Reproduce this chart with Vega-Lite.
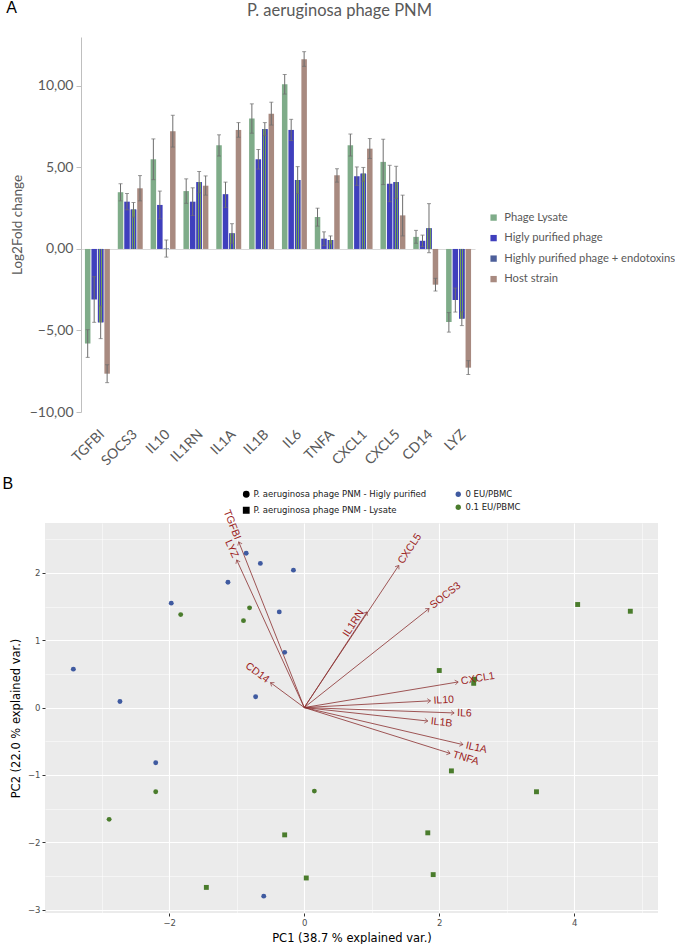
{
  "$schema": "https://vega.github.io/schema/vega-lite/v6.json",
  "padding": {"left": 2, "top": 0, "right": 0, "bottom": 0},
  "columns": 1,
  "align": "none",
  "spacing": 8,
  "config": {"view": {"stroke": null}},
  "resolve": {"scale": {"color": "independent", "shape": "independent"}, "legend": {"color": "independent", "shape": "independent"}},
  "datasets": {
    "expr": [
      {"gene": "TGFBI", "series": "Phage Lysate", "value": -5.8, "lo": -6.65, "hi": -4.95},
      {"gene": "TGFBI", "series": "Higly purified phage", "value": -3.1, "lo": -4.5, "hi": -1.7},
      {"gene": "TGFBI", "series": "Highly purified phage + endotoxins", "value": -4.5, "lo": -5.5, "hi": -3.5},
      {"gene": "TGFBI", "series": "Host strain", "value": -7.65, "lo": -8.2, "hi": -7.1},
      {"gene": "SOCS3", "series": "Phage Lysate", "value": 3.48, "lo": 2.95, "hi": 4.0},
      {"gene": "SOCS3", "series": "Higly purified phage", "value": 2.9, "lo": 2.4, "hi": 3.4},
      {"gene": "SOCS3", "series": "Highly purified phage + endotoxins", "value": 2.42, "lo": 1.95, "hi": 2.85},
      {"gene": "SOCS3", "series": "Host strain", "value": 3.72, "lo": 2.95, "hi": 4.5},
      {"gene": "IL10", "series": "Phage Lysate", "value": 5.5, "lo": 4.25, "hi": 6.75},
      {"gene": "IL10", "series": "Higly purified phage", "value": 2.7, "lo": 1.85, "hi": 3.55},
      {"gene": "IL10", "series": "Highly purified phage + endotoxins", "value": 0.02, "lo": -0.5, "hi": 0.55},
      {"gene": "IL10", "series": "Host strain", "value": 7.22, "lo": 6.25, "hi": 8.2},
      {"gene": "IL1RN", "series": "Phage Lysate", "value": 3.55, "lo": 2.8, "hi": 4.3},
      {"gene": "IL1RN", "series": "Higly purified phage", "value": 2.9, "lo": 2.05, "hi": 3.75},
      {"gene": "IL1RN", "series": "Highly purified phage + endotoxins", "value": 4.1, "lo": 3.45, "hi": 4.75},
      {"gene": "IL1RN", "series": "Host strain", "value": 3.88, "lo": 3.3, "hi": 4.48},
      {"gene": "IL1A", "series": "Phage Lysate", "value": 6.36, "lo": 5.7, "hi": 7.0},
      {"gene": "IL1A", "series": "Higly purified phage", "value": 3.36, "lo": 2.55, "hi": 4.1},
      {"gene": "IL1A", "series": "Highly purified phage + endotoxins", "value": 0.96, "lo": 0.35, "hi": 1.55},
      {"gene": "IL1A", "series": "Host strain", "value": 7.3, "lo": 6.85, "hi": 7.75},
      {"gene": "IL1B", "series": "Phage Lysate", "value": 8.0, "lo": 7.1, "hi": 8.9},
      {"gene": "IL1B", "series": "Higly purified phage", "value": 5.5, "lo": 4.9, "hi": 6.1},
      {"gene": "IL1B", "series": "Highly purified phage + endotoxins", "value": 7.35, "lo": 6.95, "hi": 7.75},
      {"gene": "IL1B", "series": "Host strain", "value": 8.3, "lo": 7.6, "hi": 9.0},
      {"gene": "IL6", "series": "Phage Lysate", "value": 10.1, "lo": 9.5, "hi": 10.7},
      {"gene": "IL6", "series": "Higly purified phage", "value": 7.3, "lo": 6.65, "hi": 7.95},
      {"gene": "IL6", "series": "Highly purified phage + endotoxins", "value": 4.23, "lo": 3.4, "hi": 5.05},
      {"gene": "IL6", "series": "Host strain", "value": 11.64, "lo": 11.2, "hi": 12.1},
      {"gene": "TNFA", "series": "Phage Lysate", "value": 1.96, "lo": 1.4, "hi": 2.5},
      {"gene": "TNFA", "series": "Higly purified phage", "value": 0.63, "lo": 0.2, "hi": 1.05},
      {"gene": "TNFA", "series": "Highly purified phage + endotoxins", "value": 0.55, "lo": 0.3, "hi": 0.8},
      {"gene": "TNFA", "series": "Host strain", "value": 4.52, "lo": 4.1, "hi": 4.92},
      {"gene": "CXCL1", "series": "Phage Lysate", "value": 6.36, "lo": 5.7, "hi": 7.05},
      {"gene": "CXCL1", "series": "Higly purified phage", "value": 4.46, "lo": 3.9, "hi": 5.03},
      {"gene": "CXCL1", "series": "Highly purified phage + endotoxins", "value": 4.62, "lo": 4.15, "hi": 5.0},
      {"gene": "CXCL1", "series": "Host strain", "value": 6.15, "lo": 5.55, "hi": 6.77},
      {"gene": "CXCL5", "series": "Phage Lysate", "value": 5.34, "lo": 3.95, "hi": 6.73},
      {"gene": "CXCL5", "series": "Higly purified phage", "value": 4.0, "lo": 2.9, "hi": 5.13},
      {"gene": "CXCL5", "series": "Highly purified phage + endotoxins", "value": 4.1, "lo": 3.1, "hi": 5.07},
      {"gene": "CXCL5", "series": "Host strain", "value": 2.06, "lo": 0.8, "hi": 3.3},
      {"gene": "CD14", "series": "Phage Lysate", "value": 0.74, "lo": 0.35, "hi": 1.14},
      {"gene": "CD14", "series": "Higly purified phage", "value": 0.5, "lo": 0.15, "hi": 0.85},
      {"gene": "CD14", "series": "Highly purified phage + endotoxins", "value": 1.27, "lo": -0.23, "hi": 2.78},
      {"gene": "CD14", "series": "Host strain", "value": -2.19, "lo": -2.58, "hi": -1.8},
      {"gene": "LYZ", "series": "Phage Lysate", "value": -4.48, "lo": -5.1, "hi": -3.9},
      {"gene": "LYZ", "series": "Higly purified phage", "value": -3.13, "lo": -3.87, "hi": -2.4},
      {"gene": "LYZ", "series": "Highly purified phage + endotoxins", "value": -4.27, "lo": -4.7, "hi": -3.85},
      {"gene": "LYZ", "series": "Host strain", "value": -7.28, "lo": -7.7, "hi": -6.85}
    ],
    "pca": [
      {"pc1": -0.86, "pc2": 2.29, "prep": "P. aeruginosa phage PNM - Higly purified", "dose": "0 EU/PBMC"},
      {"pc1": -0.65, "pc2": 2.14, "prep": "P. aeruginosa phage PNM - Higly purified", "dose": "0 EU/PBMC"},
      {"pc1": -0.16, "pc2": 2.04, "prep": "P. aeruginosa phage PNM - Higly purified", "dose": "0 EU/PBMC"},
      {"pc1": -1.13, "pc2": 1.86, "prep": "P. aeruginosa phage PNM - Higly purified", "dose": "0 EU/PBMC"},
      {"pc1": -1.97, "pc2": 1.55, "prep": "P. aeruginosa phage PNM - Higly purified", "dose": "0 EU/PBMC"},
      {"pc1": -0.37, "pc2": 1.42, "prep": "P. aeruginosa phage PNM - Higly purified", "dose": "0 EU/PBMC"},
      {"pc1": -0.29, "pc2": 0.82, "prep": "P. aeruginosa phage PNM - Higly purified", "dose": "0 EU/PBMC"},
      {"pc1": -3.42, "pc2": 0.57, "prep": "P. aeruginosa phage PNM - Higly purified", "dose": "0 EU/PBMC"},
      {"pc1": -2.73, "pc2": 0.09, "prep": "P. aeruginosa phage PNM - Higly purified", "dose": "0 EU/PBMC"},
      {"pc1": -0.72, "pc2": 0.16, "prep": "P. aeruginosa phage PNM - Higly purified", "dose": "0 EU/PBMC"},
      {"pc1": -2.2, "pc2": -0.82, "prep": "P. aeruginosa phage PNM - Higly purified", "dose": "0 EU/PBMC"},
      {"pc1": -0.6, "pc2": -2.8, "prep": "P. aeruginosa phage PNM - Higly purified", "dose": "0 EU/PBMC"},
      {"pc1": -1.83, "pc2": 1.38, "prep": "P. aeruginosa phage PNM - Higly purified", "dose": "0.1 EU/PBMC"},
      {"pc1": -0.81, "pc2": 1.48, "prep": "P. aeruginosa phage PNM - Higly purified", "dose": "0.1 EU/PBMC"},
      {"pc1": -0.9, "pc2": 1.29, "prep": "P. aeruginosa phage PNM - Higly purified", "dose": "0.1 EU/PBMC"},
      {"pc1": -2.2, "pc2": -1.25, "prep": "P. aeruginosa phage PNM - Higly purified", "dose": "0.1 EU/PBMC"},
      {"pc1": -2.89, "pc2": -1.66, "prep": "P. aeruginosa phage PNM - Higly purified", "dose": "0.1 EU/PBMC"},
      {"pc1": 0.15, "pc2": -1.24, "prep": "P. aeruginosa phage PNM - Higly purified", "dose": "0.1 EU/PBMC"},
      {"pc1": 2.0, "pc2": 0.55, "prep": "P. aeruginosa phage PNM - Lysate", "dose": "0.1 EU/PBMC"},
      {"pc1": 2.52, "pc2": 0.42, "prep": "P. aeruginosa phage PNM - Lysate", "dose": "0.1 EU/PBMC"},
      {"pc1": 2.51, "pc2": 0.36, "prep": "P. aeruginosa phage PNM - Lysate", "dose": "0.1 EU/PBMC"},
      {"pc1": 2.18, "pc2": -0.94, "prep": "P. aeruginosa phage PNM - Lysate", "dose": "0.1 EU/PBMC"},
      {"pc1": 3.44, "pc2": -1.25, "prep": "P. aeruginosa phage PNM - Lysate", "dose": "0.1 EU/PBMC"},
      {"pc1": 1.83, "pc2": -1.86, "prep": "P. aeruginosa phage PNM - Lysate", "dose": "0.1 EU/PBMC"},
      {"pc1": 1.91, "pc2": -2.48, "prep": "P. aeruginosa phage PNM - Lysate", "dose": "0.1 EU/PBMC"},
      {"pc1": 0.03, "pc2": -2.53, "prep": "P. aeruginosa phage PNM - Lysate", "dose": "0.1 EU/PBMC"},
      {"pc1": -0.29, "pc2": -1.89, "prep": "P. aeruginosa phage PNM - Lysate", "dose": "0.1 EU/PBMC"},
      {"pc1": -1.45, "pc2": -2.67, "prep": "P. aeruginosa phage PNM - Lysate", "dose": "0.1 EU/PBMC"},
      {"pc1": 4.05, "pc2": 1.53, "prep": "P. aeruginosa phage PNM - Lysate", "dose": "0.1 EU/PBMC"},
      {"pc1": 4.83, "pc2": 1.43, "prep": "P. aeruginosa phage PNM - Lysate", "dose": "0.1 EU/PBMC"}
    ],
    "load": [
      {"gene": "TGFBI", "x": -0.97, "y": 2.46},
      {"gene": "LYZ", "x": -1.0, "y": 2.19},
      {"gene": "CD14", "x": -0.5, "y": 0.37},
      {"gene": "IL1RN", "x": 0.93, "y": 1.42},
      {"gene": "CXCL5", "x": 1.4, "y": 2.11},
      {"gene": "SOCS3", "x": 1.85, "y": 1.47},
      {"gene": "CXCL1", "x": 2.28, "y": 0.38},
      {"gene": "IL10", "x": 1.87, "y": 0.1},
      {"gene": "IL6", "x": 2.22, "y": -0.08},
      {"gene": "IL1B", "x": 1.83, "y": -0.2},
      {"gene": "IL1A", "x": 2.35, "y": -0.55},
      {"gene": "TNFA", "x": 2.16, "y": -0.68}
    ]
  },
  "concat": [
    {
      "title": {"text": "A", "anchor": "start", "font": "Liberation Sans", "fontSize": 16, "fontWeight": "normal", "color": "#000000", "offset": -14, "dx": -4},
      "width": 430,
      "height": 375,
      "data": {"name": "expr"},
      "resolve": {"axis": {"x": "independent"}},
      "layer": [
        {
          "mark": {"type": "bar"},
          "encoding": {
            "x": {"field": "gene", "type": "nominal", "sort": ["TGFBI","SOCS3","IL10","IL1RN","IL1A","IL1B","IL6","TNFA","CXCL1","CXCL5","CD14","LYZ"],
                  "scale": {"range": [36, 430], "paddingInner": 0.24, "paddingOuter": 0.12},
                  "axis": {"title": null, "labelAngle": -45, "labelFont": "Lato", "labelFontSize": 14, "labelColor": "#595959", "ticks": false, "domain": false, "labelPadding": 15}},
            "xOffset": {"field": "series", "type": "nominal", "sort": ["Phage Lysate","Higly purified phage","Highly purified phage + endotoxins","Host strain"], "scale": {"paddingInner": 0.15}},
            "y": {"field": "value", "type": "quantitative", "title": "Log2Fold change",
                  "scale": {"domain": [-10, 13], "nice": false, "zero": false},
                  "axis": {"offset": -36, "values": [-10, -5, 0, 5, 10], "labelExpr": "replace(format(datum.value, '.2f'), '.', ',')", "grid": false,
                           "domainColor": "#bfbfbf", "tickColor": "#bfbfbf", "tickSize": 5, "labelFont": "Lato", "labelFontSize": 14, "labelColor": "#595959",
                           "labelPadding": 3, "titleFont": "Lato", "titleFontSize": 13.5, "titleFontWeight": "normal", "titleColor": "#595959", "titlePadding": 5}},
            "color": {"field": "series", "type": "nominal",
                      "scale": {"domain": ["Phage Lysate","Higly purified phage","Highly purified phage + endotoxins","Host strain"], "range": ["#7fac89", "#3f3fbd", "#4d5f9a", "#a88a80"]},
                      "legend": {"orient": "none", "legendX": 443, "legendY": 175, "title": null, "symbolType": "square", "symbolSize": 40, "symbolStrokeWidth": 0,
                                 "labelFont": "Lato", "labelFontSize": 11.2, "labelColor": "#595959", "rowPadding": 8.5, "labelLimit": 300, "labelOffset": 5}}
          }
        },
        {
          "transform": [{"filter": "datum.series === 'Highly purified phage + endotoxins'"}],
          "mark": {"type": "bar", "fill": {"gradient": "linear", "x1": 0, "y1": 0, "x2": 1, "y2": 0,
                   "stops": [{"offset": 0, "color": "#3f3fbd"}, {"offset": 0.2, "color": "#3f3fbd"}, {"offset": 0.2, "color": "#72a05a"}, {"offset": 0.4, "color": "#72a05a"}, {"offset": 0.4, "color": "#3f3fbd"}, {"offset": 0.6, "color": "#3f3fbd"}, {"offset": 0.6, "color": "#72a05a"}, {"offset": 0.8, "color": "#72a05a"}, {"offset": 0.8, "color": "#3f3fbd"}, {"offset": 1, "color": "#3f3fbd"}]}},
          "encoding": {
            "x": {"field": "gene", "type": "nominal", "sort": ["TGFBI","SOCS3","IL10","IL1RN","IL1A","IL1B","IL6","TNFA","CXCL1","CXCL5","CD14","LYZ"],
                  "axis": {"orient": "top", "offset": -212, "domain": true, "domainColor": "#d9d9d9", "domainWidth": 1, "labels": false, "ticks": false, "title": null, "grid": false}},
            "xOffset": {"field": "series", "type": "nominal", "sort": ["Phage Lysate","Higly purified phage","Highly purified phage + endotoxins","Host strain"]},
            "y": {"field": "value", "type": "quantitative", "title": "Log2Fold change"}
          }
        },
        {
          "mark": {"type": "rule", "color": "#6e6e6e", "strokeWidth": 1},
          "encoding": {
            "x": {"field": "gene", "type": "nominal", "sort": ["TGFBI","SOCS3","IL10","IL1RN","IL1A","IL1B","IL6","TNFA","CXCL1","CXCL5","CD14","LYZ"],
                  "axis": {"orient": "top", "title": "P. aeruginosa phage PNM", "titleX": 294, "labels": false, "ticks": false, "domain": false,
                           "titleFont": "Lato", "titleFontSize": 16.5, "titleFontWeight": "normal", "titleColor": "#595959", "titlePadding": 19}},
            "xOffset": {"field": "series", "type": "nominal", "sort": ["Phage Lysate","Higly purified phage","Highly purified phage + endotoxins","Host strain"]},
            "y": {"field": "lo", "type": "quantitative", "title": "Log2Fold change"},
            "y2": {"field": "hi"}
          }
        },
        {
          "mark": {"type": "tick", "orient": "horizontal", "size": 4, "thickness": 1, "color": "#6e6e6e"},
          "encoding": {
            "x": {"field": "gene", "type": "nominal", "sort": ["TGFBI","SOCS3","IL10","IL1RN","IL1A","IL1B","IL6","TNFA","CXCL1","CXCL5","CD14","LYZ"], "axis": null},
            "xOffset": {"field": "series", "type": "nominal", "sort": ["Phage Lysate","Higly purified phage","Highly purified phage + endotoxins","Host strain"]},
            "y": {"field": "lo", "type": "quantitative", "title": "Log2Fold change"}
          }
        },
        {
          "mark": {"type": "tick", "orient": "horizontal", "size": 4, "thickness": 1, "color": "#6e6e6e"},
          "encoding": {
            "x": {"field": "gene", "type": "nominal", "sort": ["TGFBI","SOCS3","IL10","IL1RN","IL1A","IL1B","IL6","TNFA","CXCL1","CXCL5","CD14","LYZ"], "axis": null},
            "xOffset": {"field": "series", "type": "nominal", "sort": ["Phage Lysate","Higly purified phage","Highly purified phage + endotoxins","Host strain"]},
            "y": {"field": "hi", "type": "quantitative", "title": "Log2Fold change"}
          }
        }
      ]
    },
    {
      "title": {"text": "B", "anchor": "start", "font": "Liberation Sans", "fontSize": 16, "fontWeight": "normal", "color": "#000000", "offset": -2, "dx": -8},
      "width": 613,
      "height": 390,
      "view": {"fill": "#ebebeb", "stroke": null},
      "resolve": {"axis": {"x": "independent", "y": "independent"}},
      "layer": [
        {
          "data": {"name": "load"},
          "mark": {"type": "rule", "color": "#8b3030", "strokeWidth": 0.9, "opacity": 0.9},
          "encoding": {
            "x": {"field": "x", "type": "quantitative", "scale": {"domain": [-3.84, 5.24], "nice": false, "zero": false},
                  "axis": {"orient": "top", "values": [-3, -1, 1, 3, 5], "grid": true, "gridColor": "#ffffff", "gridWidth": 0.5, "labels": false, "ticks": false, "domain": false, "title": null}},
            "y": {"field": "y", "type": "quantitative", "scale": {"domain": [-3.05, 2.74], "nice": false, "zero": false},
                  "axis": {"orient": "right", "values": [-2.5, -1.5, -0.5, 0.5, 1.5, 2.5], "grid": true, "gridColor": "#ffffff", "gridWidth": 0.5, "labels": false, "ticks": false, "domain": false, "title": null}},
            "x2": {"datum": 0},
            "y2": {"datum": 0}
          }
        },
        {
          "data": {"name": "pca"},
          "mark": {"type": "point", "filled": true, "opacity": 1, "size": 24},
          "encoding": {
            "x": {"field": "pc1", "type": "quantitative", "scale": {"domain": [-3.84, 5.24], "nice": false, "zero": false},
                  "axis": {"title": "PC1 (38.7 % explained var.)", "values": [-2, 0, 2, 4], "grid": true, "gridColor": "#ffffff", "gridWidth": 1.1, "domain": false,
                           "tickColor": "#333333", "tickSize": 3, "labelFont": "DejaVu Sans", "labelFontSize": 8.5, "labelColor": "#4d4d4d", "labelPadding": 2,
                           "titleFont": "DejaVu Sans", "titleFontSize": 11.5, "titleFontWeight": "normal", "titleColor": "#000000", "titlePadding": 6}},
            "y": {"field": "pc2", "type": "quantitative", "scale": {"domain": [-3.05, 2.74], "nice": false, "zero": false},
                  "axis": {"title": "PC2 (22.0 % explained var.)", "values": [-3, -2, -1, 0, 1, 2], "grid": true, "gridColor": "#ffffff", "gridWidth": 1.1, "domain": false,
                           "tickColor": "#333333", "tickSize": 3, "labelFont": "DejaVu Sans", "labelFontSize": 8.5, "labelColor": "#4d4d4d", "labelPadding": 2,
                           "titleFont": "DejaVu Sans", "titleFontSize": 11.5, "titleFontWeight": "normal", "titleColor": "#000000", "titlePadding": 6}},
            "shape": {"field": "prep", "type": "nominal",
                      "scale": {"domain": ["P. aeruginosa phage PNM - Higly purified", "P. aeruginosa phage PNM - Lysate"], "range": ["circle", "square"]},
                      "legend": {"orient": "none", "legendX": 197, "legendY": -33, "title": null, "symbolFillColor": "#000000", "symbolStrokeColor": "#000000", "symbolSize": 28,
                                 "labelFont": "DejaVu Sans", "labelFontSize": 8.5, "labelColor": "#1a1a1a", "labelLimit": 300, "rowPadding": 4, "labelOffset": 3}},
            "color": {"field": "dose", "type": "nominal",
                      "scale": {"domain": ["0 EU/PBMC", "0.1 EU/PBMC"], "range": ["#3f5aa0", "#4a7c2c"]},
                      "legend": {"orient": "none", "legendX": 409, "legendY": -33, "title": null, "symbolType": "circle", "symbolSize": 28,
                                 "labelFont": "DejaVu Sans", "labelFontSize": 8.5, "labelColor": "#1a1a1a", "labelLimit": 300, "rowPadding": 4, "labelOffset": 3}}
          }
        },
        {
          "data": {"name": "load"},
          "transform": [{"calculate": "atan2(-datum.y, datum.x) * 180 / PI", "as": "dir"}],
          "mark": {"type": "point", "shape": "M-1,-0.75L0,0L-1,0.75", "filled": false, "strokeWidth": 0.9, "color": "#8b3030", "size": 40},
          "encoding": {
            "x": {"field": "x", "type": "quantitative", "axis": null},
            "y": {"field": "y", "type": "quantitative", "axis": null},
            "angle": {"field": "dir", "type": "quantitative", "scale": null}
          }
        },
        {
          "data": {"name": "load"},
          "transform": [{"filter": "datum.x > 0 && datum.gene !== 'IL1RN'"}, {"calculate": "atan2(-datum.y, datum.x) * 180 / PI", "as": "dir"}],
          "mark": {"type": "text", "align": "left", "baseline": "middle", "dx": 3, "font": "Liberation Sans", "fontSize": 10.5, "color": "#9b1c1c"},
          "encoding": {
            "x": {"field": "x", "type": "quantitative", "axis": null},
            "y": {"field": "y", "type": "quantitative", "axis": null},
            "text": {"field": "gene"},
            "angle": {"field": "dir", "type": "quantitative", "scale": null}
          }
        },
        {
          "data": {"name": "load"},
          "transform": [{"filter": "datum.x < 0"}, {"calculate": "atan2(-datum.y, datum.x) * 180 / PI + 180", "as": "dir"}],
          "mark": {"type": "text", "align": "right", "baseline": "middle", "dx": -3, "font": "Liberation Sans", "fontSize": 10.5, "color": "#9b1c1c"},
          "encoding": {
            "x": {"field": "x", "type": "quantitative", "axis": null},
            "y": {"field": "y", "type": "quantitative", "axis": null},
            "text": {"field": "gene"},
            "angle": {"field": "dir", "type": "quantitative", "scale": null}
          }
        },
        {
          "data": {"name": "load"},
          "transform": [{"filter": "datum.gene === 'IL1RN'"}, {"calculate": "atan2(-datum.y, datum.x) * 180 / PI", "as": "dir"}],
          "mark": {"type": "text", "align": "right", "baseline": "bottom", "dx": -2, "font": "Liberation Sans", "fontSize": 10.5, "color": "#9b1c1c"},
          "encoding": {
            "x": {"field": "x", "type": "quantitative", "axis": null},
            "y": {"field": "y", "type": "quantitative", "axis": null},
            "text": {"field": "gene"},
            "angle": {"field": "dir", "type": "quantitative", "scale": null}
          }
        }
      ]
    }
  ]
}
